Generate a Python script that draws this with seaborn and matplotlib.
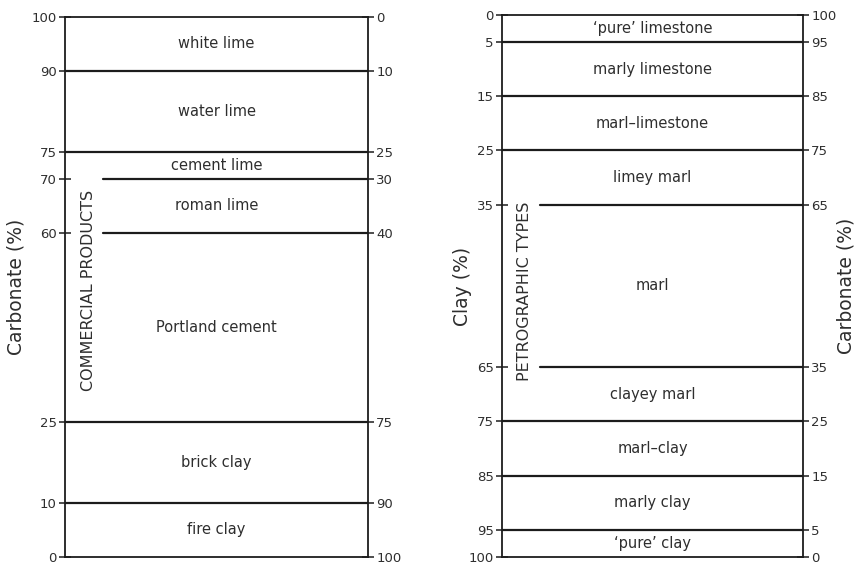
import matplotlib
matplotlib.use('Agg')
import matplotlib.pyplot as plt
import pandas as pd
import seaborn as sns

# carbonate (%) boundaries, commercial products (top -> bottom)
comm_bounds = [100, 90, 75, 70, 60, 25, 10, 0]
comm_names = ['white lime', 'water lime', 'cement lime', 'roman lime',
              'Portland cement', 'brick clay', 'fire clay']
comm_short = [70, 60]  # lines that stop short of the vertical caption

# clay (%) boundaries, petrographic types (top -> bottom)
petro_bounds = [0, 5, 15, 25, 35, 65, 75, 85, 95, 100]
petro_names = ['\u2018pure\u2019 limestone', 'marly limestone', 'marl\u2013limestone',
               'limey marl', 'marl', 'clayey marl', 'marl\u2013clay',
               'marly clay', '\u2018pure\u2019 clay']
petro_short = [35, 65]

sns.set_style('white')
plt.rcParams['font.family'] = ['DejaVu Sans']

ink = '#1c1c1c'
txt = '#2e2e2e'

fig = plt.figure(figsize=(8.59, 5.68), dpi=100)
ax1 = fig.add_axes([0.0757, 0.0194, 0.3527, 0.9507])
ax2 = fig.add_axes([0.5844, 0.0194, 0.3504, 0.9542])


def draw_panel(ax, bounds, names, short, caption, cap_pos):
    # boundary lines through seaborn, one unit per level
    rows = []
    for b in bounds[1:-1]:
        x0 = 0.125 if b in short else 0.0
        rows += [{'level': b, 'x': x0, 'y': b}, {'level': b, 'x': 1.0, 'y': b}]
    df = pd.DataFrame(rows)
    sns.lineplot(data=df, x='x', y='y', units='level', estimator=None,
                 color=ink, lw=1.6, ax=ax, legend=False)
    ax.set_xlim(0, 1)
    ax.set_xticks([])
    ax.set_xlabel('')
    for s in ax.spines.values():
        s.set_visible(True)
        s.set_color(ink)
        s.set_linewidth(1.3)
    ax.set_yticks(bounds)
    ax.set_yticklabels([str(b) for b in bounds])
    ax.tick_params(axis='y', direction='inout', length=8, width=1.1,
                   labelsize=9.5, pad=2, colors=ink, labelcolor=txt, left=True)
    # category names in the middle of each band
    for top, bot, name in zip(bounds[:-1], bounds[1:], names):
        ax.text(0.5, (top + bot) / 2, name, ha='center', va='center',
                fontsize=10.5, color=txt)
    ax.text(0.076, cap_pos, caption, rotation=90, ha='center', va='center',
            fontsize=11.5, color=txt)


draw_panel(ax1, comm_bounds, comm_names, comm_short, 'COMMERCIAL PRODUCTS', 49.4)
ax1.set_ylim(0, 100)
ax1.set_ylabel('Carbonate (%)', fontsize=13.5, color=txt)
ax1.yaxis.set_label_coords(-0.129, 0.5)
sec1 = ax1.secondary_yaxis('right', functions=(lambda v: 100 - v, lambda v: 100 - v))
sec1.set_yticks([100 - b for b in comm_bounds])
sec1.tick_params(direction='inout', length=8, width=1.1, labelsize=9.5, pad=2,
                 colors=ink, labelcolor=txt)
sec1.spines['right'].set_visible(False)

draw_panel(ax2, petro_bounds, petro_names, petro_short, 'PETROGRAPHIC TYPES', 50.9)
ax2.set_ylim(100, 0)
ax2.set_ylabel('Clay (%)', fontsize=13.5, color=txt)
ax2.yaxis.set_label_coords(-0.10, 0.5)
sec2 = ax2.secondary_yaxis('right', functions=(lambda v: 100 - v, lambda v: 100 - v))
sec2.set_yticks([100 - b for b in petro_bounds])
sec2.tick_params(direction='inout', length=8, width=1.1, labelsize=9.5, pad=2,
                 colors=ink, labelcolor=txt)
sec2.spines['right'].set_visible(False)
sec2.set_ylabel('Carbonate (%)', fontsize=13.5, color=txt)
sec2.yaxis.set_label_coords(1.11, 0.5, transform=ax2.transAxes)

fig.savefig('out.png', dpi=100)
